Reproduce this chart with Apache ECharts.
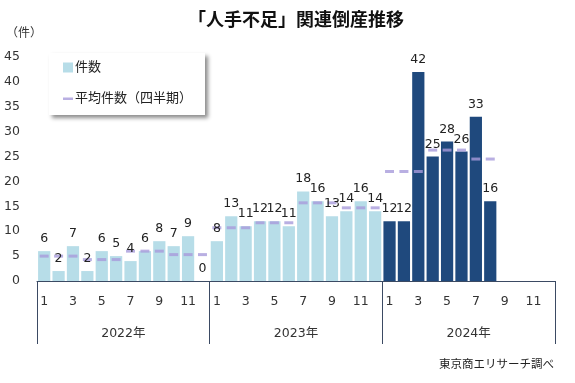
<!DOCTYPE html>
<html>
<head>
<meta charset="utf-8">
<script src="https://cdn.jsdelivr.net/npm/echarts@6/dist/echarts.min.js"></script>
<style>
html,body{margin:0;padding:0;background:#fff;}
#chart{width:575px;height:383px;}
</style>
</head>
<body>
<div id="chart"></div>
<script>
// ---- data ----
const months = ['1','2','3','4','5','6','7','8','9','10','11','12',
                '1','2','3','4','5','6','7','8','9','10','11','12',
                '1','2','3','4','5','6','7','8','9','10','11','12'];
const years = ['2022年','2023年','2024年'];
const counts = [6,2,7,2,6,5,4,6,8,7,9,0,
                8,13,11,12,12,11,18,16,13,14,16,14,
                12,12,42,25,28,26,33,16,null,null,null,null];
const quarterAvg = [5,5,5, 4.3,4.3,4.3, 6,6,6, 5.3,5.3,5.3,
                    10.7,10.7,10.7, 11.7,11.7,11.7, 15.7,15.7,15.7, 14.7,14.7,14.7,
                    22,22,22, 26.3,26.3,26.3, 24.5,24.5,null, null,null,null];
const yTicks = {min:0, max:45, interval:5};
const titleText = '「人手不足」関連倒産推移';
const unitText = '（件）';
const sourceText = '東京商エリサーチ調べ';
const seriesNames = ['件数','平均件数（四半期）'];

// ---- style ----
const FONT = '"DejaVu Sans", "Noto Sans CJK JP", sans-serif';
const LIGHT = '#b7dde8';
const DARK = '#1f497d';
const DASH = '#a89bdb';
const AXIS = '#3b4a63';

const chart = echarts.init(document.getElementById('chart'), null, {renderer:'canvas'});
chart.setOption({
  animation:false,
  backgroundColor:'#fff',
  textStyle:{fontFamily:FONT},
  graphic:[
    {type:'text', x:296, y:21, style:{text:titleText, align:'center', verticalAlign:'middle', font:'bold 18px ' + FONT, fill:'#111'}},
    {type:'text', x:6, y:34, style:{text:unitText, verticalAlign:'middle', font:'12px ' + FONT, fill:'#333'}},
    {type:'text', x:554, y:365, style:{text:sourceText, align:'right', verticalAlign:'middle', font:'11.5px ' + FONT, fill:'#222'}}
  ],
  grid:{left:37, right:20, top:57, bottom:102, containLabel:false},
  legend:{
    orient:'vertical', left:49, top:53,
    padding:[8,13,10,14],
    itemGap:18, itemWidth:10, itemHeight:10,
    backgroundColor:'#fff',
    shadowColor:'rgba(0,0,0,0.45)', shadowBlur:4, shadowOffsetX:3, shadowOffsetY:3,
    textStyle:{fontSize:13, color:'#222', fontFamily:FONT, padding:[0,0,0,-3]},
    data:[
      {name:seriesNames[0], icon:'path://M0,1h9v9h-9Z', itemStyle:{color:LIGHT}},
      {name:seriesNames[1], icon:'path://M0,0L0.01,0L0.01,0.01Z M0,4h10v2.6h-10Z M10,10L9.99,10L9.99,9.99Z', itemStyle:{color:DASH}}
    ]
  },
  xAxis:[
    {type:'category', data:months, position:'bottom',
     axisLine:{show:true, lineStyle:{color:AXIS, width:1}},
     axisTick:{show:false},
     axisLabel:{interval:1, margin:14, fontSize:12.5, color:'#333', fontFamily:FONT},
     splitLine:{show:false}},
    {type:'category', data:years, position:'bottom',
     axisLine:{show:false},
     axisTick:{show:true, length:63, lineStyle:{color:AXIS, width:1}},
     axisLabel:{margin:46, fontSize:12.5, color:'#333', fontFamily:FONT},
     splitLine:{show:false}}
  ],
  yAxis:{type:'value', min:yTicks.min, max:yTicks.max, interval:yTicks.interval,
    axisLine:{show:false}, axisTick:{show:false}, splitLine:{show:false},
    axisLabel:{margin:17, fontSize:12.5, color:'#333', fontFamily:FONT}},
  series:[
    {name:seriesNames[0], type:'bar', xAxisIndex:0, data:counts, z:2,
     barCategoryGap:'15%', barGap:'-100%',
     itemStyle:{color:function(p){return p.dataIndex>=24?DARK:LIGHT;}}},
    {name:seriesNames[1], type:'scatter', xAxisIndex:0, data:quarterAvg, z:3,
     symbol:'rect', symbolSize:[9,3], itemStyle:{color:DASH}},
    {name:'labels', type:'bar', xAxisIndex:0, data:counts, z:5,
     barCategoryGap:'15%', barGap:'-100%',
     itemStyle:{color:'rgba(0,0,0,0)'},
     label:{show:true, position:'top', distance:6, fontSize:12.5, color:'#222', fontFamily:FONT}}
  ]
});
</script>
</body>
</html>
